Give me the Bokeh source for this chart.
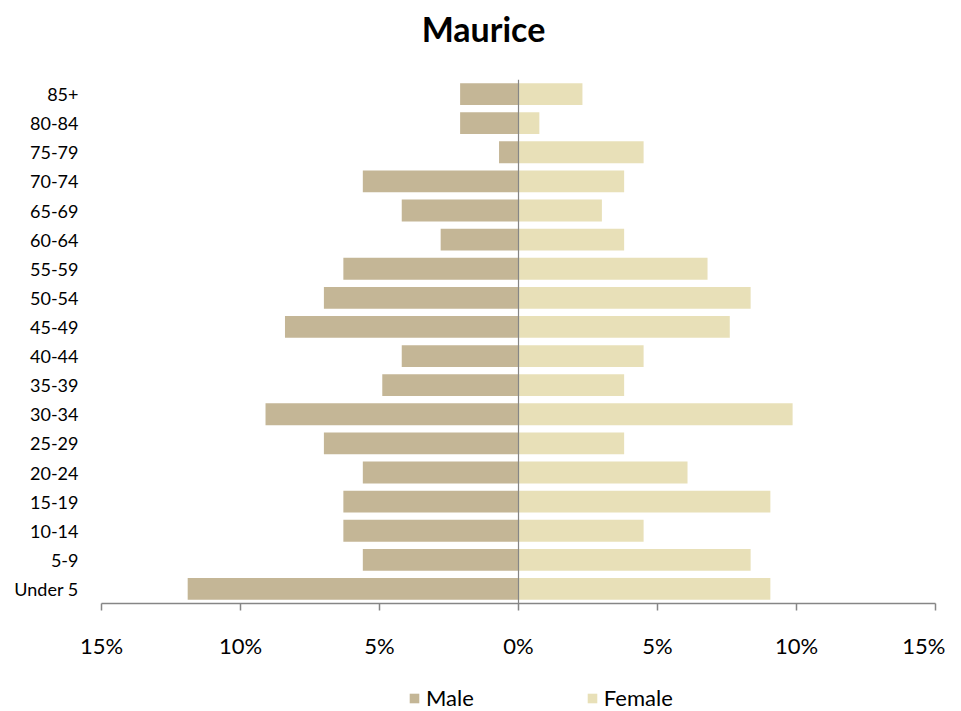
from bokeh.plotting import figure
from bokeh.layouts import column
from bokeh.models import (FactorRange, Range1d, ColumnDataSource, Span, Legend, Label,
                          LegendItem, FixedTicker, CustomJSTickFormatter)
from bokeh.embed import file_html
from bokeh.resources import INLINE

age_groups = ["Under 5", "5-9", "10-14", "15-19", "20-24", "25-29", "30-34", "35-39",
              "40-44", "45-49", "50-54", "55-59", "60-64", "65-69", "70-74", "75-79",
              "80-84", "85+"]
male = [11.9, 5.6, 6.3, 6.3, 5.6, 7.0, 9.1, 4.9, 4.2, 8.4, 7.0, 6.3, 2.8, 4.2, 5.6, 0.7, 2.1, 2.1]
female = [9.06, 8.35, 4.5, 9.06, 6.08, 3.8, 9.86, 3.8, 4.5, 7.6, 8.35, 6.8, 3.8, 3.0, 3.8, 4.5, 0.75, 2.3]
x_ticks = [-15, -10, -5, 0, 5, 10, 15]
title_text = "Maurice"
series_names = ["Male", "Female"]

FONT = "Lato"
MALE_C = "#C4B696"
FEMALE_C = "#E8E0B8"
AXIS_C = "#868686"

src = ColumnDataSource(dict(age=age_groups, male=[-v for v in male], female=female))


def strip(h):
    f = figure(width=945, height=h, output_backend="svg", toolbar_location=None,
               x_range=Range1d(-15, 15), y_range=FactorRange(factors=age_groups),
               x_axis_location=None, y_axis_location=None,
               min_border=0, min_border_left=0, min_border_right=0,
               min_border_top=0, min_border_bottom=0)
    f.outline_line_color = None
    f.grid.grid_line_color = None
    return f


# title strip
tf = strip(79)
tf.add_layout(Label(x=382, y=51, x_units="screen", y_units="screen", text=title_text,
                    text_font=FONT, text_font_size="34px", text_font_style="bold",
                    text_align="center", text_baseline="middle", text_color="#000000"))

# main chart
p = figure(width=945, height=582, output_backend="svg", toolbar_location=None,
           y_range=FactorRange(factors=age_groups), x_range=Range1d(-15, 15),
           min_border_left=101, min_border_right=10, min_border_top=0, min_border_bottom=57)
p.outline_line_color = None
p.grid.grid_line_color = None

p.hbar(y="age", left="male", right=0, height=0.75, source=src,
       fill_color=MALE_C, line_color=None)
p.hbar(y="age", left=0, right="female", height=0.75, source=src,
       fill_color=FEMALE_C, line_color=None)

p.add_layout(Span(location=0, dimension="height", line_color=AXIS_C, line_width=1.2))

xa = p.xaxis[0]
xa.ticker = FixedTicker(ticks=x_ticks)
xa.formatter = CustomJSTickFormatter(code="return Math.abs(tick) + '%';")
xa.axis_line_color = AXIS_C
xa.axis_line_width = 1.5
xa.major_tick_line_color = AXIS_C
xa.major_tick_line_width = 1.5
xa.major_tick_in = 0
xa.major_tick_out = 7
xa.minor_tick_line_color = None
xa.major_label_text_font = FONT
xa.major_label_text_font_size = "22px"
xa.major_label_text_color = "#000000"
xa.major_label_standoff = 21

ya = p.yaxis[0]
ya.axis_line_color = None
ya.major_tick_line_color = None
ya.minor_tick_line_color = None
ya.major_label_text_font = FONT
ya.major_label_text_font_size = "18px"
ya.major_label_text_color = "#000000"
ya.major_label_standoff = 17

# legend strip: hidden copies of the two series, used only for the legend keys
lf = strip(50)
lm = lf.hbar(y="age", left="male", right=0, height=0.75, source=src,
             fill_color=MALE_C, line_color=None, visible=False)
lfe = lf.hbar(y="age", left=0, right="female", height=0.75, source=src,
              fill_color=FEMALE_C, line_color=None, visible=False)

legend = Legend(items=[LegendItem(label=series_names[0], renderers=[lm]),
                       LegendItem(label=series_names[1], renderers=[lfe])],
                orientation="horizontal", location=(307, 0),
                glyph_width=12, glyph_height=12, label_standoff=6, spacing=112,
                padding=0, margin=0, border_line_color=None, background_fill_alpha=0,
                inactive_fill_alpha=0,
                label_text_font=FONT, label_text_font_size="22px",
                label_text_color="#000000", label_height=12)
lf.add_layout(legend, "center")

layout = column(tf, p, lf, spacing=0)
open("out.html", "w").write(file_html(layout, INLINE))
